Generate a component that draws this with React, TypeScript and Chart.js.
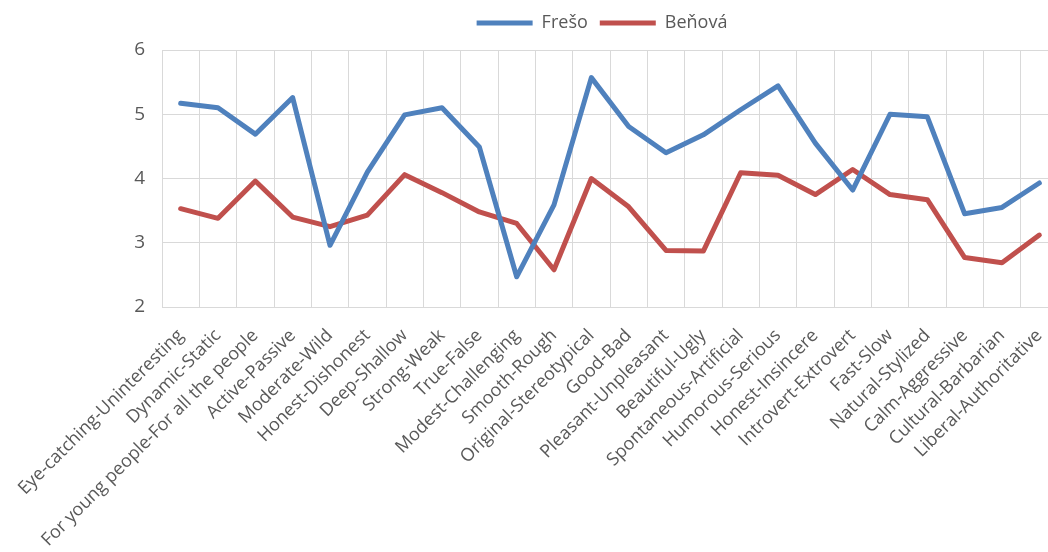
import React, { useEffect, useRef } from "react";
import { Chart, registerables } from "chart.js";

Chart.register(...registerables);

const categories = [
  "Eye-catching-Uninteresting",
  "Dynamic-Static",
  "For young people-For all the people",
  "Active-Passive",
  "Moderate-Wild",
  "Honest-Dishonest",
  "Deep-Shallow",
  "Strong-Weak",
  "True-False",
  "Modest-Challenging",
  "Smooth-Rough",
  "Original-Stereotypical",
  "Good-Bad",
  "Pleasant-Unpleasant",
  "Beautiful-Ugly",
  "Spontaneous-Artificial",
  "Humorous-Serious",
  "Honest-Insincere",
  "Introvert-Extrovert",
  "Fast-Slow",
  "Natural-Stylized",
  "Calm-Aggressive",
  "Cultural-Barbarian",
  "Liberal-Authoritative",
];

const fresoValues = [
  5.17, 5.1, 4.69, 5.26, 2.96, 4.1, 4.99, 5.1, 4.49, 2.47, 3.59, 5.57,
  4.81, 4.4, 4.68, 5.07, 5.44, 4.55, 3.82, 5.0, 4.96, 3.45, 3.55, 3.93,
];

const benovaValues = [
  3.53, 3.38, 3.96, 3.4, 3.25, 3.43, 4.06, 3.78, 3.48, 3.3, 2.58, 4.0,
  3.56, 2.88, 2.87, 4.09, 4.05, 3.75, 4.14, 3.75, 3.67, 2.77, 2.69, 3.12,
];

const yTicks = [2, 3, 4, 5, 6];

const seriesNames = ["Frešo", "Beňová"];
const seriesColors = ["#4F81BD", "#C0504D"];

const FONT = "'Open Sans', 'DejaVu Sans', sans-serif";
const TEXT = "#595959";
const GRID = "#D9D9D9";

const CANVAS_W = 1079;
const CANVAS_H = 552;

// Adds some breathing room between the legend and the plot area.
const legendGap = {
  id: "legendGap",
  beforeInit(chart: any) {
    const legend = chart.legend;
    if (!legend) return;
    const origFit = legend.fit;
    legend.fit = function fit() {
      origFit.call(this);
      this.height += 8;
    };
  },
};

export default function App() {
  const canvasRef = useRef<HTMLCanvasElement | null>(null);

  useEffect(() => {
    const canvas = canvasRef.current;
    if (!canvas) return;
    const chart = new Chart(canvas, {
      type: "line",
      data: {
        labels: categories,
        datasets: [fresoValues, benovaValues].map((values, i) => ({
          label: seriesNames[i],
          data: values,
          borderColor: seriesColors[i],
          backgroundColor: seriesColors[i],
          borderWidth: 5,
          pointRadius: 0,
          pointHoverRadius: 0,
          tension: 0,
          borderCapStyle: "round" as const,
          borderJoinStyle: "round" as const,
        })),
      },
      plugins: [legendGap],
      options: {
        animation: false,
        responsive: false,
        devicePixelRatio: 1,
        layout: { padding: { left: 125, right: 0, top: 2, bottom: 0 } },
        plugins: {
          tooltip: { enabled: false },
          legend: {
            position: "top",
            labels: {
              font: { family: FONT, size: 18 },
              color: TEXT,
              boxWidth: 56,
              boxHeight: 5,
              padding: 12,
              generateLabels: (c) =>
                c.data.datasets.map((ds, i) => ({
                  text: ds.label as string,
                  fillStyle: seriesColors[i],
                  strokeStyle: seriesColors[i],
                  lineWidth: 0,
                  hidden: false,
                  datasetIndex: i,
                  fontColor: TEXT,
                })),
            },
          },
        },
        scales: {
          x: {
            type: "category",
            offset: true,
            grid: { offset: true, color: GRID, lineWidth: 1, drawTicks: false },
            border: { display: true, color: GRID },
            ticks: {
              autoSkip: false,
              minRotation: 45,
              maxRotation: 45,
              padding: 18,
              color: TEXT,
              font: { family: FONT, size: 18 },
            },
            afterFit: (scale: any) => {
              scale.height = 245;
            },
          },
          y: {
            min: yTicks[0],
            max: yTicks[yTicks.length - 1],
            afterBuildTicks: (scale: any) => {
              scale.ticks = yTicks.map((v) => ({ value: v }));
            },
            ticks: {
              padding: 17,
              color: TEXT,
              font: { family: FONT, size: 19 },
            },
            grid: { color: GRID, lineWidth: 1, drawTicks: false },
            border: { display: false },
            afterFit: (scale: any) => {
              scale.width = 37;
            },
          },
          // Empty spacer on the right so the legend sits centred over the plot.
          yRight: {
            position: "right",
            display: true,
            ticks: { display: false },
            grid: { display: false },
            border: { display: false },
            afterFit: (scale: any) => {
              scale.width = 21;
            },
          },
        },
      },
    });
    return () => chart.destroy();
  }, []);

  return (
    <div
      style={{
        position: "fixed",
        left: 0,
        top: 0,
        width: 1048,
        height: CANVAS_H,
        overflow: "hidden",
        background: "#fff",
      }}
    >
      <canvas
        ref={canvasRef}
        width={CANVAS_W}
        height={CANVAS_H}
        style={{ display: "block", width: CANVAS_W, height: CANVAS_H }}
      />
    </div>
  );
}
